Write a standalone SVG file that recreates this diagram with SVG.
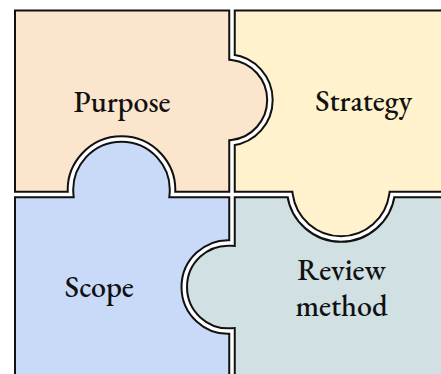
<svg xmlns="http://www.w3.org/2000/svg" width="441" height="374" viewBox="0 0 441 374">
  <style>
    .label { font-family: "EB Garamond", "Liberation Serif", "DejaVu Serif", serif; font-size: 30px; font-weight: 500; fill: #111; text-anchor: middle; }
    .seam-dark { fill: none; stroke: #111; stroke-width: 7.5; stroke-linecap: butt; stroke-linejoin: miter; }
    .seam-light { fill: none; stroke: #fff; stroke-width: 3.5; stroke-linecap: butt; }
    .border { fill: none; stroke: #111; stroke-width: 2; }
  </style>
  <rect x="0" y="0" width="441" height="374" fill="#fff"/>

  <!-- puzzle pieces -->
  <g id="purpose">
    <path fill="#fce5cd" d="M15,10.5 H232 V57.3 A43,43 0 0 1 232,142.7 V194.5 H172.3 A51,51 0 1 0 70.7,194.5 H15 Z"/>
    <text class="label" x="122" y="111.5">Purpose</text>
  </g>
  <g id="strategy">
    <path fill="#fff2cc" d="M232,10.5 H450 V194.5 H392.02 A51.5,51.5 0 0 1 289.98,194.5 H232 V142.7 A43,43 0 0 0 232,57.3 Z"/>
    <text class="label" x="363.7" y="111">Strategy</text>
  </g>
  <g id="scope">
    <path fill="#c9daf8" d="M15,194.5 H70.7 A51,51 0 1 1 172.3,194.5 H232 V243.05 A44.1,44.1 0 1 0 232,330.95 V380 H15 Z"/>
    <text class="label" x="99.3" y="297.3">Scope</text>
  </g>
  <g id="review-method">
    <path fill="#d0e0e3" d="M232,194.5 H289.98 A51.5,51.5 0 0 0 392.02,194.5 H450 V380 H232 V330.95 A44.1,44.1 0 1 1 232,243.05 Z"/>
    <text class="label" x="341.5" y="280">Review</text>
    <text class="label" x="341.5" y="315.7">method</text>
  </g>

  <!-- outer frame -->
  <path class="border" d="M450,10.5 H15 V380"/>

  <!-- seams between the pieces -->
  <g id="seams">
    <path class="seam-dark" d="M232,10.5 V57.3 A43,43 0 0 1 232,142.7 V243.05 A44.1,44.1 0 1 0 232,330.95 V380"/>
    <path class="seam-dark" d="M15,194.5 H70.7 A51,51 0 1 1 172.3,194.5 H289.98 A51.5,51.5 0 0 0 392.02,194.5 H450"/>
    <path class="seam-light" d="M232,0 V57.3 A43,43 0 0 1 232,142.7 V243.05 A44.1,44.1 0 1 0 232,330.95 V380"/>
    <path class="seam-light" d="M0,194.5 H70.7 A51,51 0 1 1 172.3,194.5 H289.98 A51.5,51.5 0 0 0 392.02,194.5 H450"/>
  </g>
</svg>
